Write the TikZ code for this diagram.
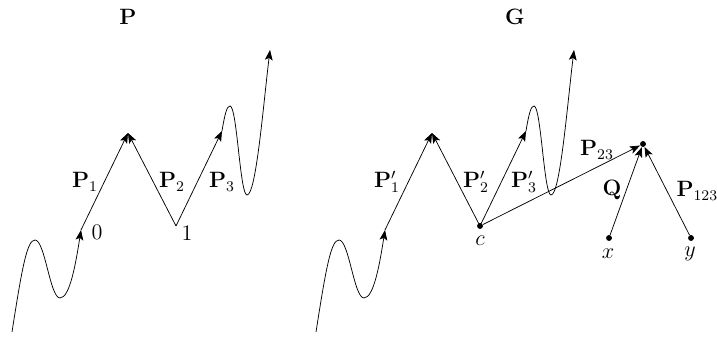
\documentclass[tikz,border=0pt]{standalone}
\usetikzlibrary{arrows.meta}
\tikzset{dot/.style={circle,fill,inner sep=0pt,minimum size=3.2pt},
  every node/.style={font=\large}}
\begin{document}
\begin{tikzpicture}[x=0.019cm,y=-0.019cm,>={Stealth[length=5.5pt,width=4.2pt,inset=1.2pt]}]
  \useasboundingbox (0,0) rectangle (717,337);
  % the same walk twice, once for P and once for G
  \foreach \s/\n in {0/l,304/r} {
    \begin{scope}[xshift=\s*0.019cm]
      \coordinate (\n s) at (12,332);
      \coordinate (\n a) at (81,230);
      \coordinate (\n t) at (128,133);
      \coordinate (\n b) at (176,226);
      \coordinate (\n u) at (222,131);
      \coordinate (\n e) at (270,50);
      \draw[->] (\n s) .. controls (22,268) and (27,240) .. (35,240)
        .. controls (45,240) and (50,298) .. (60,298)
        .. controls (70,298) and (76,262) .. (\n a);
      \draw[->] (\n a) -- (\n t);
      \draw[->] (\n b) -- (\n t);
      \draw[->] (\n b) -- (\n u);
      \draw[->] (\n u) .. controls (225,113) and (227,106) .. (230,106)
        .. controls (237,106) and (240,195) .. (247,195)
        .. controls (256,195) and (263,108) .. (\n e);
    \end{scope}
  }
  \node (P) at (128,17) {$\mathbf{P}$};
  \node (G) at (515,17) {$\mathbf{G}$};
  % labels of P
  \node (l0) at (97,232) {$0$};
  \node (l1) at (187,233) {$1$};
  \node (lP1) at (85,182) {$\mathbf{P}_1$};
  \node (lP2) at (172,182) {$\mathbf{P}_2$};
  \node (lP3) at (222,182) {$\mathbf{P}_3$};
  % labels of G
  \node (rP1) at (387,182) {$\mathbf{P}'_1$};
  \node (rP2) at (476,182) {$\mathbf{P}'_2$};
  \node (rP3) at (524,182) {$\mathbf{P}'_3$};
  \node[dot] (c) at (rb) {};
  \node (lc) at (480,241) {$c$};
  \node[dot] (m) at (643,144) {};
  \node[dot] (x) at (609,238) {};
  \node[dot] (y) at (691,238) {};
  \node (lx) at (608,254) {$x$};
  \node (ly) at (690,254) {$y$};
  \draw[->] (c) -- (m);
  \draw[->] (x) -- (m);
  \draw[->] (y) -- (m);
  \node (lP23) at (597,150) {$\mathbf{P}_{23}$};
  \node (lQ) at (612,190) {$\mathbf{Q}$};
  \node[anchor=west] (lP123) at (670,191) {$\mathbf{P}_{123}$};
\end{tikzpicture}
\end{document}
